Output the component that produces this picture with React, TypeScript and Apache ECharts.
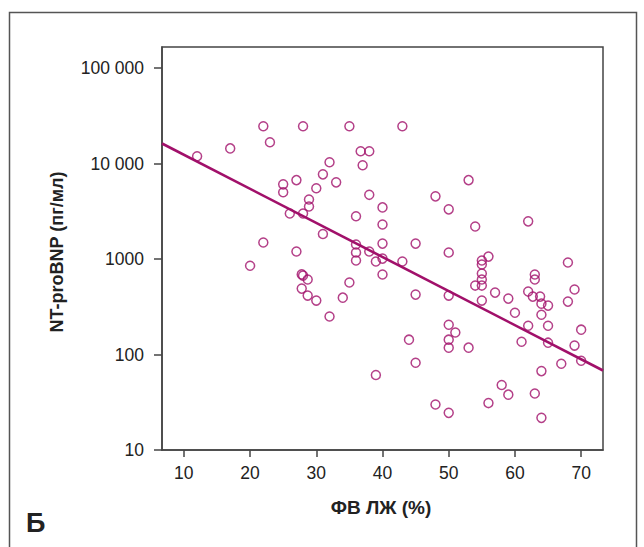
import React, { useEffect, useRef } from "react";
import * as echarts from "echarts";

const COLOR = "#a1106a";

// LVEF (%) values
const efValues = [
  12, 17, 22, 28, 35, 43, 23, 25, 25, 27, 28.9, 28.9, 26, 28, 22, 27, 20, 27.8, 28, 28.7,
  27.8, 28.7, 30, 32, 34, 35, 31, 32, 31, 33, 30, 36.7, 38, 37, 38, 36, 40, 40, 36, 36,
  36, 38, 40, 39, 40, 43, 45, 40, 45, 50, 44, 45, 39, 48, 50, 48, 50, 53, 54, 62,
  50, 56, 55, 55, 55, 55, 55, 54, 57, 55, 59, 60, 62, 63, 63, 62.7, 63.8, 64, 65, 64,
  68, 69, 68, 62, 65, 70, 51, 50, 50, 50, 53, 61, 65, 69, 70, 67, 64, 58, 59, 63,
  56, 64,
];

// NT-proBNP (pg/ml) values
const bnpValues = [
  11900, 14400, 24600, 24600, 24600, 24600, 16700, 6050, 5000, 6700, 4200, 3550, 3000, 3000, 1490, 1200, 850, 690, 670, 610,
  490, 414, 367, 250, 394, 567, 1830, 10300, 7700, 6350, 5500, 13450, 13450, 9600, 4700, 2800, 3470, 2300, 1420, 1170,
  964, 1200, 1450, 942, 1010, 942, 1450, 688, 424, 414, 143, 82, 61, 30, 24.5, 4530, 3310, 6700, 2190, 2480,
  1170, 1060, 964, 875, 705, 610, 527, 527, 445, 367, 385, 274, 456, 688, 610, 404, 404, 341, 325, 261,
  919, 479, 358, 200, 200, 182, 170, 205, 143, 118, 118, 136, 133, 124, 86, 80, 67, 48, 38, 39,
  31, 21.7,
];

// regression line endpoints
const regX = [6.7, 73.3];
const regY = [16200, 68];

const xTicks = [10, 20, 30, 40, 50, 60, 70];
const yTicks = [10, 100, 1000, 10000, 100000];

const xTitle = "ФВ ЛЖ (%)";
const yTitle = "NT-proBNP (пг/мл)";
const panelLetter = "Б";

const FONT = "'Liberation Sans', Arial, Helvetica, sans-serif";

function fmtY(v: number): string {
  const s = String(Math.round(v));
  if (v >= 10000) return s.replace(/\B(?=(\d{3})+(?!\d))/g, " ");
  return s;
}

export default function App() {
  const ref = useRef<HTMLDivElement>(null);

  useEffect(() => {
    if (!ref.current) return;
    const chart = echarts.init(ref.current, undefined, { renderer: "svg" });
    const points = efValues.map((x, i) => [x, bnpValues[i]]);
    const line = regX.map((x, i) => [x, regY[i]]);
    chart.setOption({
      animation: false,
      backgroundColor: "#fff",
      grid: {
        left: 162,
        right: 41,
        top: 47,
        bottom: 97,
        show: true,
        borderColor: "#444",
        borderWidth: 1.5,
        backgroundColor: "transparent",
      },
      xAxis: {
        type: "value",
        min: 6.7,
        max: 73.3,
        axisLine: { show: true, lineStyle: { color: "#444", width: 1.5 } },
        axisTick: {
          show: true,
          inside: false,
          length: 7,
          customValues: xTicks,
          lineStyle: { color: "#444", width: 1.5 },
        },
        axisLabel: {
          customValues: xTicks,
          color: "#222",
          fontSize: 17.5,
          fontFamily: FONT,
          margin: 14,
        },
        splitLine: { show: false },
      },
      yAxis: {
        type: "log",
        logBase: 10,
        min: 10,
        max: 166000,
        axisLine: { show: true, lineStyle: { color: "#444", width: 1.5 } },
        axisTick: {
          show: true,
          inside: false,
          length: 8,
          customValues: yTicks,
          lineStyle: { color: "#444", width: 1.5 },
        },
        axisLabel: {
          customValues: yTicks,
          color: "#222",
          fontSize: 17.5,
          fontFamily: FONT,
          margin: 18,
          formatter: (v: number) => fmtY(v),
        },
        splitLine: { show: false },
        minorTick: { show: false },
        minorSplitLine: { show: false },
      },
      graphic: [
        {
          type: "rect",
          silent: true,
          shape: { x: 9.5, y: 12.5, width: 627, height: 560 },
          style: { fill: "none", stroke: "#555", lineWidth: 1.5 },
        },
        {
          type: "text",
          x: 57,
          y: 252,
          rotation: Math.PI / 2,
          style: {
            text: yTitle,
            fontSize: 18,
            fontWeight: "bold",
            fontFamily: FONT,
            fill: "#222",
            textAlign: "center",
            textVerticalAlign: "middle",
          },
        },
        {
          type: "text",
          x: 381,
          y: 507,
          style: {
            text: xTitle,
            fontSize: 19,
            fontWeight: "bold",
            fontFamily: FONT,
            fill: "#222",
            textAlign: "center",
            textVerticalAlign: "middle",
          },
        },
        {
          type: "text",
          x: 26,
          y: 523,
          style: {
            text: panelLetter,
            fontSize: 27,
            fontWeight: "bold",
            fontFamily: FONT,
            fill: "#222",
            textAlign: "left",
            textVerticalAlign: "middle",
          },
        },
      ],
      series: [
        {
          type: "line",
          data: line,
          showSymbol: false,
          symbol: "none",
          lineStyle: { color: COLOR, width: 2.6 },
          silent: true,
          z: 2,
        },
        {
          type: "scatter",
          data: points,
          symbol: "circle",
          symbolSize: 9,
          itemStyle: { color: "transparent", borderColor: COLOR, borderWidth: 1.5 },
          z: 3,
        },
      ],
    });
    return () => chart.dispose();
  }, []);

  return (
    <div
      ref={ref}
      style={{ position: "absolute", left: 0, top: 0, width: 644, height: 547 }}
    />
  );
}
